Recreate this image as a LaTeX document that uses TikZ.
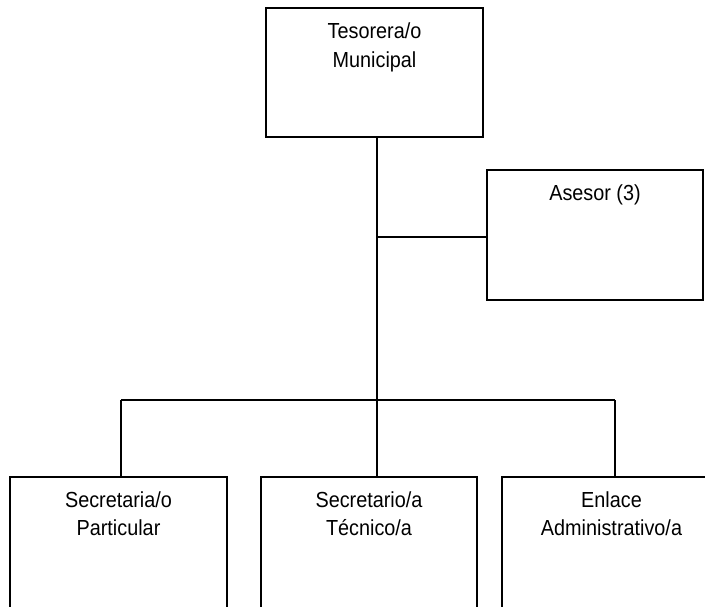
\documentclass[tikz,border=0pt]{standalone}
\usepackage{fontspec}
\setmainfont{Liberation Sans}[FakeStretch=0.91]
\usetikzlibrary{positioning}

\begin{document}
\begin{tikzpicture}[%
  x=0.03cm, y=-0.03cm,
  office/.style = {draw, line width=1.7pt, minimum width=#1, minimum height=3.9cm, inner sep=0pt},
  office/.default = 6.51cm,
  officetext/.style = {font=\fontsize{18.6}{24.7}\selectfont, align=center, inner sep=0pt},
  trunk/.style = {line width=1.6pt},
  link/.style = {line width=1pt},
]

  \useasboundingbox (0,0) rectangle (705,606);
  \clip (0,0) rectangle (705,606);

  % offices
  \node[office, minimum height=3.87cm] (tes) at (374.5, 72.5) {};
  \node[office=6.48cm] (ase) at (595, 235) {};
  \node[office, minimum height=4.2cm] (sec) at (118.5, 547) {};
  \node[office=6.48cm, minimum height=4.2cm] (tec) at (369, 547) {};
  \node[office=6.57cm, minimum height=4.2cm] (enl) at (611.5, 547) {};

  \node[officetext, below=0.46cm of tes.north] (tes-t) {Tesorera/o\\Municipal};
  \node[officetext, below=0.46cm of ase.north] (ase-t) {Asesor (3)};
  \node[officetext, below=0.45cm of sec.north] (sec-t) {Secretaria/o\\Particular};
  \node[officetext, below=0.45cm of tec.north] (tec-t) {Secretario/a\\Técnico/a};
  \node[officetext, below=0.45cm of enl.north] (enl-t) {Enlace\\Administrativo/a};

  % connectors
  \coordinate (fork) at (377, 237);
  \coordinate (bar) at (377, 400);
  \coordinate (barL) at (121, 400);
  \coordinate (barR) at (615, 400);

  \draw[trunk] (tes.south -| fork) -- (bar);
  \draw[link] (fork) -- (fork -| ase.west);
  \draw[link] (barL) -- (barR);
  \draw[link] (barL) -- (barL |- sec.north);
  \draw[link] (bar) -- (bar |- tec.north);
  \draw[link] (barR) -- (barR |- enl.north);

\end{tikzpicture}
\end{document}
